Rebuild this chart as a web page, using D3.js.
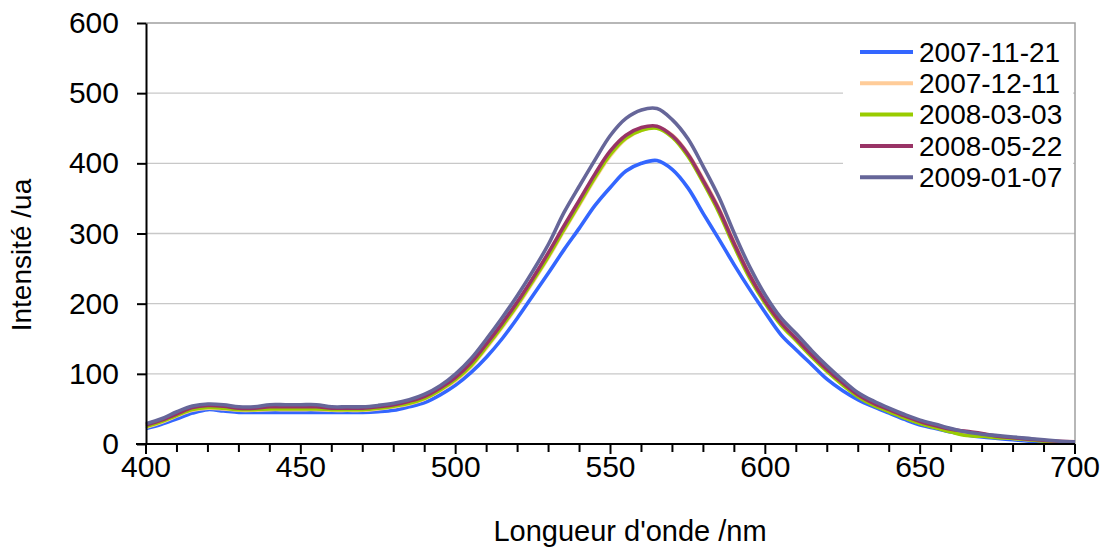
<!DOCTYPE html>
<html>
<head>
<meta charset="utf-8">
<script src="https://cdn.jsdelivr.net/npm/d3@7/dist/d3.min.js"></script>
<style>
  html, body { margin: 0; padding: 0; background: #fff; }
  svg { display: block; font-family: "Liberation Sans", Arial, sans-serif; }
</style>
</head>
<body>
<svg id="chart" width="1103" height="548"></svg>
<script>
// Emission spectra (intensity vs wavelength), one series per measurement date
const wavelengths = [400,405,410,415,420,425,430,435,440,445,450,455,460,465,470,475,480,485,490,495,
  500,505,510,515,520,525,530,535,540,545,550,555,560,565,570,575,580,585,590,595,
  600,605,610,615,620,625,630,635,640,645,650,655,660,665,670,675,680,685,690,695,700];

const s20071121 = [22,28,36,44,49,47,45,45,45,45,45,45,45,45,45,46,48,53,59,70,
  84,102,124,150,180,212,244,277,308,340,366,389,400,404,391,365,328,292,255,220,
  187,156,134,113,92,76,63,53,44,35,27,22,17,13,10,8,6,4,3,2,2];
const s20071211 = [24,31,40,48,51,50,48,48,49,49,49,49,48,48,48,50,53,57,64,76,
  90,110,137,166,197,231,266,304,341,378,411,435,447,451,440,414,377,336,287,241,
  204,173,149,126,105,86,69,56,47,38,30,24,19,15,12,10,8,6,5,3,2];
const s20080303 = [25,32,41,49,52,51,49,49,50,50,50,50,49,49,49,51,54,58,65,77,
  92,112,139,168,199,233,268,306,343,380,413,436,447,450,437,410,372,330,281,236,
  200,170,147,124,103,84,67,55,46,37,29,23,17,12,11,9,8,6,4,3,2];
const s20080522 = [27,34,43,52,55,54,51,51,53,53,53,53,51,51,51,53,56,61,68,80,
  95,116,143,172,203,237,273,311,348,385,418,440,451,453,439,413,375,334,285,240,
  203,173,150,127,106,87,70,58,49,40,32,26,21,18,15,11,9,7,5,4,3];
const s20090107 = [29,36,46,54,57,56,53,53,56,56,56,56,53,53,53,55,58,63,71,83,
  100,122,150,180,212,247,285,330,368,405,440,464,476,478,462,435,395,352,300,252,
  212,180,157,133,111,91,73,61,51,42,34,28,22,17,14,12,10,8,6,4,3];

const seriesNames = ["2007-11-21", "2007-12-11", "2008-03-03", "2008-05-22", "2009-01-07"];
const seriesValues = [s20071121, s20071211, s20080303, s20080522, s20090107];
const seriesColors = ["#3366ff", "#ffcc99", "#99cc00", "#993366", "#666699"];

const yTicks = [0, 100, 200, 300, 400, 500, 600];
const xTicks = [400, 450, 500, 550, 600, 650, 700];
const xTitle = "Longueur d'onde /nm";
const yTitle = "Intensité /ua";

const svg = d3.select("#chart");
const plot = { left: 146, right: 1075, top: 23, bottom: 444 };

const x = d3.scaleLinear().domain([400, 700]).range([plot.left, plot.right]);
const y = d3.scaleLinear().domain([0, 600]).range([plot.bottom, plot.top]);

// horizontal gridlines
svg.append("g")
  .selectAll("line")
  .data(yTicks.filter(v => v > 0 && v < 600))
  .join("line")
  .attr("x1", plot.left).attr("x2", plot.right)
  .attr("y1", d => y(d)).attr("y2", d => y(d))
  .attr("stroke", "#c8c8c8").attr("stroke-width", 1.3);

// plot-area frame (top and right)
svg.append("path")
  .attr("d", `M${plot.left},${y(600)}H${plot.right}V${plot.bottom}`)
  .attr("fill", "none").attr("stroke", "#a0a0a0").attr("stroke-width", 1.5);

// series lines
const line = d3.line()
  .x((d, i) => x(wavelengths[i]))
  .y(d => y(d))
  .curve(d3.curveCatmullRom.alpha(0.5));

svg.append("g")
  .selectAll("path")
  .data(seriesValues)
  .join("path")
  .attr("d", d => line(d))
  .attr("fill", "none")
  .attr("stroke", (d, i) => seriesColors[i])
  .attr("stroke-width", 3.6)
  .attr("stroke-linejoin", "round");

// y axis
const yAxis = svg.append("g")
  .attr("transform", `translate(${plot.left},0)`)
  .call(d3.axisLeft(y).tickValues(yTicks).tickSize(9).tickPadding(18).tickSizeOuter(0));
yAxis.select(".domain").attr("stroke", "#000").attr("stroke-width", 2);
yAxis.selectAll(".tick line").attr("stroke", "#000").attr("stroke-width", 2);
yAxis.selectAll(".tick text")
  .attr("font-size", 30).attr("fill", "#000")
  .attr("font-family", "'Liberation Sans', Arial, sans-serif");

// x axis: minor ticks every 10 nm, labelled majors every 50 nm
const xAxisG = svg.append("g").attr("transform", `translate(0,${plot.bottom})`);
xAxisG.append("line")
  .attr("x1", plot.left - 10).attr("x2", plot.right)
  .attr("stroke", "#000").attr("stroke-width", 2);
xAxisG.selectAll("line.minor")
  .data(d3.range(400, 701, 10))
  .join("line")
  .attr("class", "minor")
  .attr("x1", d => x(d)).attr("x2", d => x(d))
  .attr("y1", 0).attr("y2", d => (d % 50 === 0 ? 10 : 8))
  .attr("stroke", "#000").attr("stroke-width", 2);
xAxisG.selectAll("text")
  .data(xTicks)
  .join("text")
  .attr("x", d => x(d)).attr("y", 33)
  .attr("text-anchor", "middle")
  .attr("font-size", 30).attr("fill", "#000")
  .text(d => d);

// axis titles
svg.append("text")
  .attr("x", 630).attr("y", 541)
  .attr("text-anchor", "middle").attr("font-size", 29).attr("fill", "#000")
  .text(xTitle);
svg.append("text")
  .attr("transform", "translate(31,255) rotate(-90)")
  .attr("text-anchor", "middle").attr("font-size", 28).attr("fill", "#000")
  .text(yTitle);

// legend
const legend = svg.append("g");
legend.append("rect")
  .attr("x", 843).attr("y", 24).attr("width", 230).attr("height", 170)
  .attr("fill", "#fff");
const items = legend.selectAll("g.item")
  .data(seriesNames)
  .join("g")
  .attr("class", "item")
  .attr("transform", (d, i) => `translate(0,${52 + i * 31.3})`);
items.append("line")
  .attr("x1", 860).attr("x2", 913)
  .attr("stroke", (d, i) => seriesColors[i]).attr("stroke-width", 4);
items.append("text")
  .attr("x", 919).attr("dy", "0.35em")
  .attr("font-size", 28).attr("fill", "#000")
  .text(d => d);
</script>
</body>
</html>
